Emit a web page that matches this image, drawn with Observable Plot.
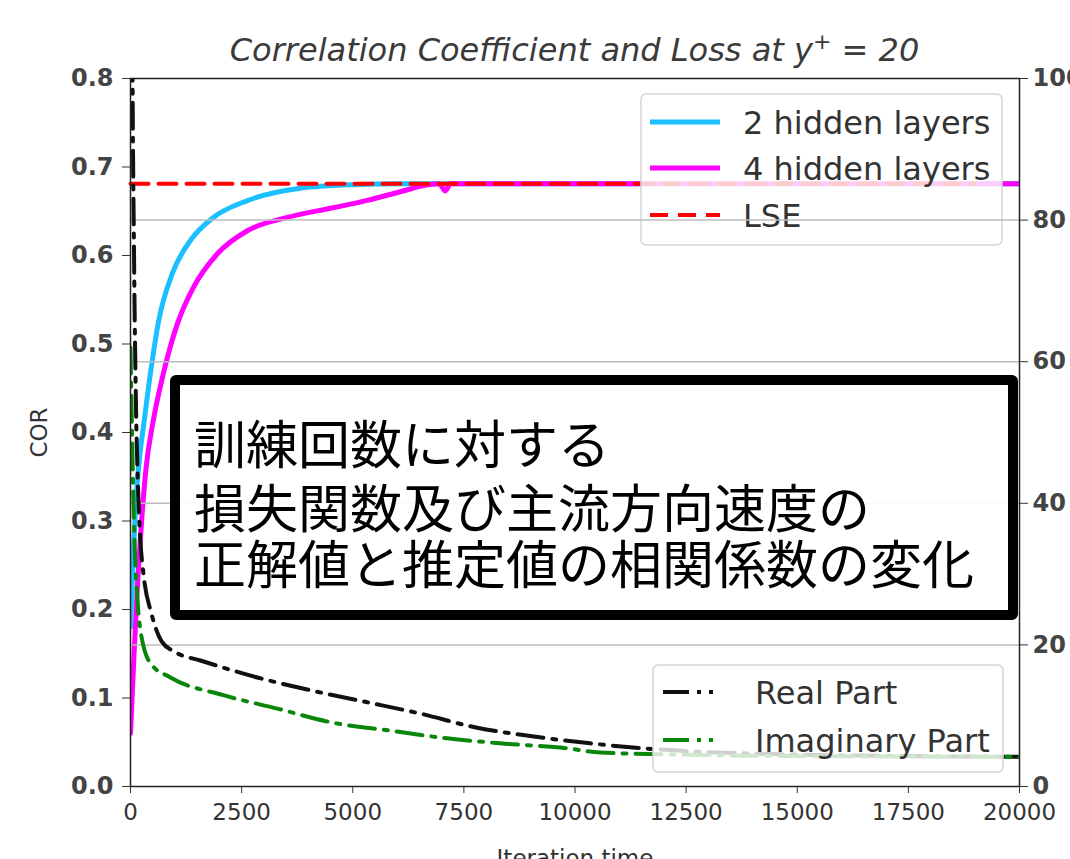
<!DOCTYPE html>
<html>
<head>
<meta charset="utf-8">
<script src="https://cdn.jsdelivr.net/npm/d3@7"></script>
<script src="https://cdn.jsdelivr.net/npm/@observablehq/plot@0.6"></script>
<style>
  html, body { margin: 0; padding: 0; background: #fff; overflow: hidden; }
  #wrap { position: relative; width: 1070px; height: 859px; overflow: hidden; }
  #chart { position: absolute; left: 0; top: 0; }
  #title {
    position: absolute; left: 130px; width: 889px; top: 32px;
    text-align: center; font: italic 32px/36px "DejaVu Sans"; color: #3a3a3a;
  }
  #title sup { font-size: 22px; vertical-align: 12px; line-height: 0; }
  #note {
    position: absolute; left: 170px; top: 375px; width: 848px; height: 245px;
    box-sizing: border-box; border: 10px solid #000; border-radius: 6px;
    background: rgba(255, 255, 255, 0.93);
    padding: 29px 0 0 14px;
    font: 400 52px/56px "Noto Sans CJK JP"; color: #000; white-space: nowrap;
  }
  #note .first { margin-bottom: 8px; }
  .ytick text { font-weight: bold; fill: #444; }
</style>
</head>
<body>
<div id="wrap">
  <div id="chart"></div>
  <div id="title">Correlation Coefficient and Loss at y<sup>+</sup> = 20</div>
  <div id="note">
    <div class="first">訓練回数に対する</div>
    <div>損失関数及び主流方向速度の</div>
    <div>正解値と推定値の相関係数の変化</div>
  </div>
</div>
<script>
// Axis ticks
const iterTicks = [0, 2500, 5000, 7500, 10000, 12500, 15000, 17500, 20000];
const corTicks = [0, 0.1, 0.2, 0.3, 0.4, 0.5, 0.6, 0.7, 0.8];
const lossTicks = [0, 20, 40, 60, 80, 100];
const lossGridTicks = [20, 40, 60, 80];
const corMax = 0.8;
const lossMax = 100;

// Correlation coefficient, 2 hidden layers
const iter2 = [0, 60, 120, 200, 300, 449, 637, 944, 1348, 1865, 2629, 3820, 5000, 6067, 8000, 12000, 16000, 20000];
const cor2  = [0.18, 0.26, 0.32, 0.37, 0.41, 0.467, 0.527, 0.58, 0.617, 0.643, 0.662, 0.676, 0.680, 0.681, 0.681, 0.681, 0.681, 0.681];

// Correlation coefficient, 4 hidden layers
const iter4 = [0, 80, 160, 250, 350, 500, 741, 1056, 1416, 1955, 2629, 3528, 4561, 5300, 6067, 6700, 6950, 7080, 7200, 9000, 12000, 16000, 20000];
const cor4  = [0.06, 0.15, 0.23, 0.30, 0.36, 0.41, 0.467, 0.523, 0.564, 0.602, 0.628, 0.643, 0.654, 0.662, 0.672, 0.680, 0.681, 0.673, 0.681, 0.681, 0.681, 0.681, 0.681];

// Least-squares estimate
const lseIter = [0, 19000];
const lseCor = 0.681;

// Loss, real part
const iterReal = [0, 40, 80, 120, 160, 220, 292, 472, 700, 1000, 1573, 2854, 4045, 5326, 6517, 7798, 9034, 10337, 11500, 12500, 15000, 17500, 20000];
const lossReal = [300, 110, 75, 55, 44, 35, 30, 24.4, 20.5, 19.0, 17.8, 15.4, 13.6, 11.9, 10.3, 8.3, 7.1, 6.1, 5.4, 5.0, 4.5, 4.3, 4.2];

// Loss, imaginary part
const iterImag = [0, 50, 100, 160, 225, 449, 899, 2090, 3303, 4561, 5842, 7123, 8314, 9820, 10561, 12500, 15000, 20000];
const lossImag = [62, 45, 33, 26, 22, 17.4, 15.4, 12.9, 11.0, 9.0, 7.9, 6.8, 6.1, 5.4, 4.8, 4.5, 4.3, 4.2];

const rows = (xs, ys) => xs.map((x, i) => ({x, y: Array.isArray(ys) ? ys[i] : ys}));
const lossToCor = v => v * corMax / lossMax;

const chart = Plot.plot({
  width: 1070,
  height: 874,
  marginLeft: 130,
  marginRight: 51,
  marginTop: 78,
  marginBottom: 88,
  style: {fontFamily: "DejaVu Sans", fontSize: "23px", color: "#333", background: "transparent"},
  x: {domain: [0, 20000]},
  y: {domain: [0, corMax]},
  marks: [
    Plot.line(rows(iter2, cor2), {x: "x", y: "y", stroke: "#1cbfff", strokeWidth: 5, curve: "monotone-x", clip: true}),
    Plot.line(rows(iter4, cor4), {x: "x", y: "y", stroke: "#ff00ff", strokeWidth: 5, curve: "monotone-x", clip: true}),
    Plot.line(rows(lseIter, lseCor), {x: "x", y: "y", stroke: "#ff0000", strokeWidth: 4, strokeDasharray: "18,10"}),
    Plot.gridY(lossGridTicks.map(lossToCor), {stroke: "#bcbcbc", strokeOpacity: 1, strokeWidth: 1.5, ariaLabel: "loss-grid"}),
    Plot.line(rows(iterReal, lossReal), {x: "x", y: d => lossToCor(d.y), stroke: "#111", strokeWidth: 4, strokeDasharray: "26,9,4,9", curve: "monotone-x", clip: true}),
    Plot.line(rows(iterImag, lossImag), {x: "x", y: d => lossToCor(d.y), stroke: "#0a870a", strokeWidth: 4, strokeDasharray: "26,9,4,9", curve: "monotone-x", clip: true}),
    Plot.axisY(corTicks, {tickFormat: d3.format(".1f"), tickSize: 8, tickPadding: 9, fontSize: 24, className: "ytick", label: null}),
    Plot.axisY({label: "COR", labelAnchor: "center", labelOffset: 100, labelArrow: "none", ticks: [], tickSize: 0}),
    Plot.axisY(lossTicks.map(lossToCor), {anchor: "right", tickFormat: v => Math.round(v * lossMax / corMax), tickSize: 8, tickPadding: 5, fontSize: 24, className: "ytick", label: null}),
    Plot.axisX(iterTicks, {tickFormat: d3.format("d"), tickSize: 7, tickPadding: 10, label: "Iteration time", labelAnchor: "center", labelOffset: 79, labelArrow: "none"}),
    Plot.frame({stroke: "#222", strokeWidth: 1.5})
  ]
});
document.getElementById("chart").appendChild(chart);

// Legend boxes drawn into the chart's SVG
function drawLegend(g, box, entries) {
  g.append("rect")
    .attr("x", box.x).attr("y", box.y).attr("width", box.w).attr("height", box.h)
    .attr("rx", 5).attr("fill", "#fff").attr("fill-opacity", 0.8)
    .attr("stroke", "#d6d6d6").attr("stroke-width", 1.5);
  for (const e of entries) {
    g.append("line")
      .attr("x1", box.x + box.lx1).attr("x2", box.x + box.lx2)
      .attr("y1", e.y).attr("y2", e.y)
      .attr("stroke", e.color).attr("stroke-width", e.width)
      .attr("stroke-dasharray", e.dash || null);
    g.append("text")
      .attr("x", box.x + box.tx).attr("y", e.y + 12)
      .attr("text-anchor", "start")
      .attr("font-family", "DejaVu Sans").attr("font-size", 32).attr("fill", "#333")
      .text(e.label);
  }
}

const svg = d3.select(chart);
const gridNode = chart.querySelector('[aria-label="loss-grid"]');
const topLegend = svg.insert("g", () => gridNode);
drawLegend(topLegend, {x: 641, y: 94, w: 361, h: 151, lx1: 9, lx2: 79, tx: 102}, [
  {label: "2 hidden layers", color: "#1cbfff", width: 5, y: 122},
  {label: "4 hidden layers", color: "#ff00ff", width: 5, y: 168},
  {label: "LSE", color: "#ff0000", width: 4, y: 215, dash: "18,10"}
]);
const bottomLegend = svg.append("g");
drawLegend(bottomLegend, {x: 653, y: 665, w: 350, h: 107, lx1: 10, lx2: 77, tx: 102}, [
  {label: "Real Part", color: "#111", width: 4, y: 692, dash: "26,8,4,8,4,60"},
  {label: "Imaginary Part", color: "#0a870a", width: 4, y: 740, dash: "26,8,4,8,4,60"}
]);
</script>
</body>
</html>
